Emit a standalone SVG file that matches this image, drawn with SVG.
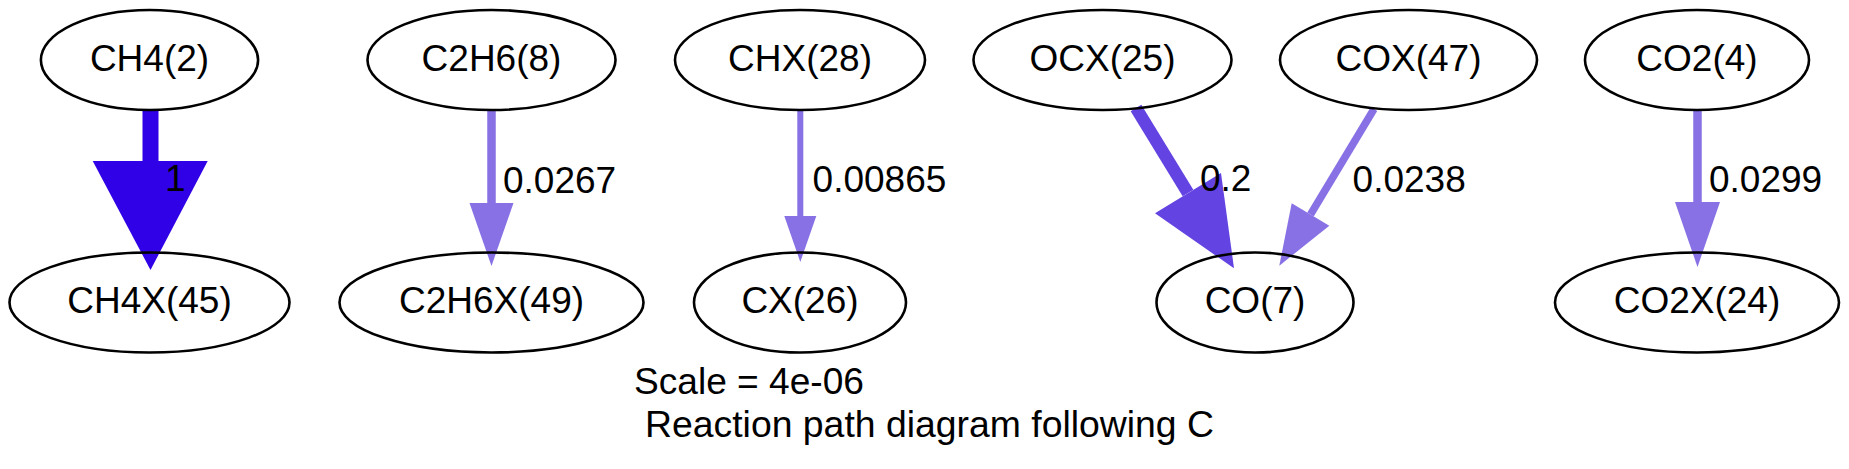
<svg xmlns="http://www.w3.org/2000/svg" width="1849" height="469" viewBox="0 0 1849 469">
<style>
text{font-family:"Liberation Sans",Arial,Helvetica,sans-serif;font-size:37px;fill:#000}
.n ellipse{fill:none;stroke:#000;stroke-width:2.6}
.n text{text-anchor:middle}
.e1{fill:#3000e6;stroke:#3000e6}
.e2{fill:#6343e2;stroke:#6343e2}
.e3{fill:#8870e5;stroke:#8870e5}
.sh{fill:none;stroke-linecap:butt}
.hd{stroke:none}
</style>
<rect width="1849" height="469" fill="#fff"/>
<g id="connectors">
  <g id="e-ch4" class="e1">
    <line class="sh" x1="150.5" y1="110" x2="150.5" y2="162" stroke-width="16"/>
    <polygon class="hd" points="92.7,161 207.7,161 150.5,270"/>
  </g>
  <g id="e-c2h6" class="e3">
    <line class="sh" x1="491.5" y1="110" x2="491.5" y2="204" stroke-width="8.5"/>
    <polygon class="hd" points="469.5,203 513.5,203 491.5,266"/>
  </g>
  <g id="e-chx" class="e3">
    <line class="sh" x1="800.3" y1="110" x2="800.3" y2="217" stroke-width="6"/>
    <polygon class="hd" points="784.3,216 816.3,216 800.3,262"/>
  </g>
  <g id="e-ocx" class="e2">
    <line class="sh" x1="1136" y1="108" x2="1188" y2="193" stroke-width="12.5"/>
    <polygon class="hd" points="1155,213.3 1221,173 1234,268.3"/>
  </g>
  <g id="e-cox" class="e3">
    <line class="sh" x1="1374" y1="109" x2="1310.5" y2="214.5" stroke-width="7.5"/>
    <polygon class="hd" points="1291.7,203.3 1329.3,225.7 1279.3,265.7"/>
  </g>
  <g id="e-co2" class="e3">
    <line class="sh" x1="1697.5" y1="110" x2="1697.5" y2="203" stroke-width="8.5"/>
    <polygon class="hd" points="1675,202 1720,202 1697.5,267"/>
  </g>
  <g id="edge-labels">
    <text x="165" y="191">1</text>
    <text x="503" y="193">0.0267</text>
    <text x="812.6" y="192">0.00865</text>
    <text x="1200" y="191">0.2</text>
    <text x="1352.6" y="192">0.0238</text>
    <text x="1709" y="192">0.0299</text>
  </g>
</g>
<g id="CH4_2" class="n"><ellipse cx="149.5" cy="60" rx="108.6" ry="50"/><text x="149.5" y="71">CH4(2)</text></g>
<g id="CH4X_45" class="n"><ellipse cx="149.5" cy="302.5" rx="140" ry="50"/><text x="149.5" y="313">CH4X(45)</text></g>
<g id="C2H6_8" class="n"><ellipse cx="491.5" cy="60" rx="124" ry="50"/><text x="491.5" y="71">C2H6(8)</text></g>
<g id="C2H6X_49" class="n"><ellipse cx="491.5" cy="302.5" rx="152" ry="50"/><text x="491.5" y="313">C2H6X(49)</text></g>
<g id="CHX_28" class="n"><ellipse cx="800" cy="60" rx="125" ry="50"/><text x="800" y="71">CHX(28)</text></g>
<g id="CX_26" class="n"><ellipse cx="800" cy="302.5" rx="106" ry="50"/><text x="800" y="313">CX(26)</text></g>
<g id="OCX_25" class="n"><ellipse cx="1102.5" cy="60" rx="129" ry="50"/><text x="1102.5" y="71">OCX(25)</text></g>
<g id="COX_47" class="n"><ellipse cx="1408.5" cy="60" rx="128.5" ry="50"/><text x="1408.5" y="71">COX(47)</text></g>
<g id="CO_7" class="n"><ellipse cx="1255" cy="302.5" rx="98.5" ry="50"/><text x="1255" y="313">CO(7)</text></g>
<g id="CO2_4" class="n"><ellipse cx="1697" cy="60" rx="112" ry="50"/><text x="1697" y="71">CO2(4)</text></g>
<g id="CO2X_24" class="n"><ellipse cx="1697" cy="302.5" rx="142" ry="50"/><text x="1697" y="313">CO2X(24)</text></g>
<g id="caption">
  <text x="634" y="394" textLength="230" lengthAdjust="spacingAndGlyphs">Scale = 4e-06</text>
  <text x="645" y="437" textLength="569" lengthAdjust="spacingAndGlyphs">Reaction path diagram following C</text>
</g>
</svg>
